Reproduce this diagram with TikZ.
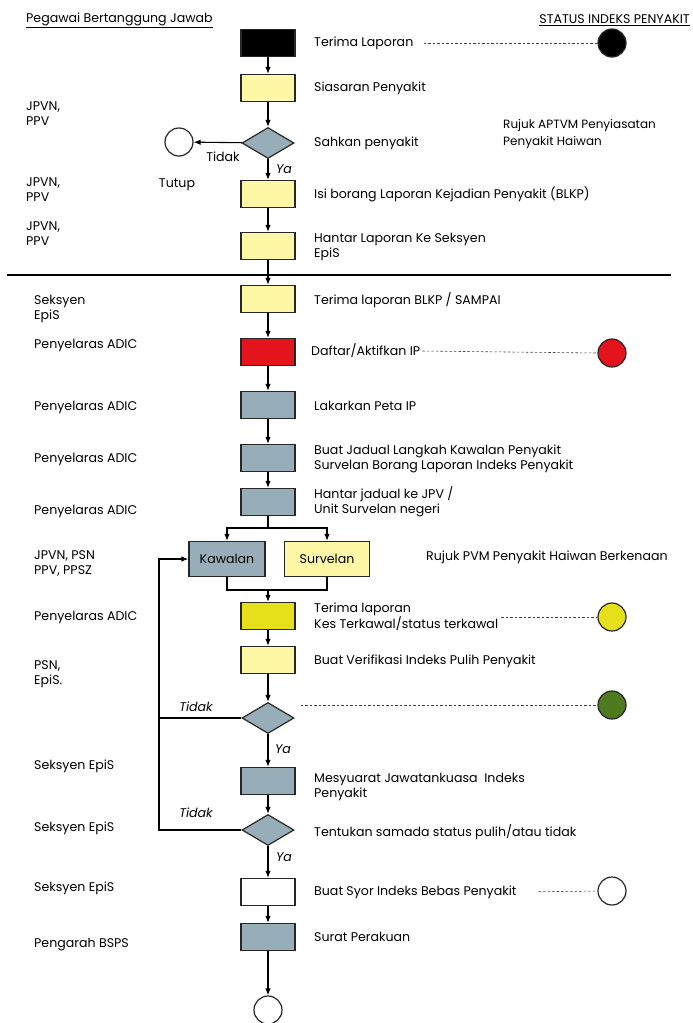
\documentclass[tikz,border=0pt]{standalone}
\usepackage{fontspec}
\setmainfont{Poppins}
\usetikzlibrary{arrows,arrows.meta,shapes,positioning,calc}

\definecolor{lyellow}{HTML}{FDF7A6}
\definecolor{dyellow}{HTML}{E6E01A}
\definecolor{greyblue}{HTML}{97AEB8}
\definecolor{flagred}{HTML}{E3141B}
\definecolor{flaggreen}{HTML}{4E7A1E}

\begin{document}
\begin{tikzpicture}[x=1pt, y=-1pt,
  stepbox/.style={draw=black!85, line width=1.2pt, minimum width=54pt, minimum height=27pt, inner sep=0pt},
  decision/.style={diamond, draw=black!85, line width=1.2pt, fill=greyblue, minimum width=52pt, minimum height=31pt, inner sep=0pt},
  status/.style={circle, draw=black!85, line width=1.2pt, minimum size=28pt, inner sep=0pt},
  txt/.style={anchor=west, inner sep=0pt, align=left, font=\fontsize{12.6}{15}\selectfont},
  note/.style={inner sep=0pt, font=\fontsize{12.6}{15}\selectfont\itshape},
  flow/.style={-{Latex[length=7pt, width=5.5pt]}, line width=1.1pt},
  dots/.style={dash pattern=on 2.5pt off 2pt, black!75, line width=0.6pt}]
  \useasboundingbox (0,0) rectangle (693,1023);

  % headings
  \node[txt] (head1) at (26,20) {\underline{Pegawai Bertanggung Jawab}};
  \node[txt, anchor=east] (head2) at (690,20) {\underline{STATUS INDEKS PENYAKIT}};

  % main column
  \node[stepbox, fill=black] (lap) at (268,43) {};
  \node[stepbox, fill=lyellow] (sias) at (268,88) {};
  \node[decision] (sah) at (268,143) {};
  \node[stepbox, fill=lyellow] (isi) at (268,194) {};
  \node[stepbox, fill=lyellow] (hantar) at (268,246) {};
  \node[stepbox, fill=lyellow] (blkp) at (268,299) {};
  \node[stepbox, fill=flagred] (daftar) at (268,352) {};
  \node[stepbox, fill=greyblue] (peta) at (268,405) {};
  \node[stepbox, fill=greyblue] (jadual) at (268,458) {};
  \node[stepbox, fill=greyblue] (hjadual) at (268,502) {};
  \node[stepbox, fill=greyblue, minimum width=76pt, minimum height=35pt, font=\fontsize{12.6}{15}\selectfont] (kaw) at (227,559) {Kawalan};
  \node[stepbox, fill=lyellow, minimum width=85pt, minimum height=35pt, font=\fontsize{12.6}{15}\selectfont] (sur) at (327,559) {Survelan};
  \node[stepbox, fill=dyellow] (kes) at (268,616) {};
  \node[stepbox, fill=lyellow] (veri) at (268,660) {};
  \node[decision] (pulih) at (268,718) {};
  \node[stepbox, fill=greyblue] (mesy) at (268,781) {};
  \node[decision] (tentu) at (268,830) {};
  \node[stepbox, fill=white] (syor) at (268,892) {};
  \node[stepbox, fill=greyblue] (surat) at (268,937) {};
  \node[status] (tamat) at (268,1010) {};
  \node[status] (tutup) at (179,142) {};

  % step texts
  \node[txt] (tlap) at (314,43) {Terima Laporan};
  \node[txt] (tsias) at (314,88) {Siasaran Penyakit};
  \node[txt] (tsah) at (314,143) {Sahkan penyakit};
  \node[txt] (tisi) at (314,194) {Isi borang Laporan Kejadian Penyakit (BLKP)};
  \node[txt] (thantar) at (314,247) {Hantar Laporan Ke Seksyen\\EpiS};
  \node[txt] (tblkp) at (314,300) {Terima laporan BLKP / SAMPAI};
  \node[txt] (tdaftar) at (311,351) {Daftar/Aktifkan IP};
  \node[txt] (tpeta) at (314,406) {Lakarkan Peta IP};
  \node[txt] (tjadual) at (314,459) {Buat Jadual Langkah Kawalan Penyakit\\Survelan Borang Laporan Indeks Penyakit};
  \node[txt] (thjadual) at (314,502) {Hantar jadual ke JPV /\\Unit Survelan negeri};
  \node[txt] (tkes) at (314,617) {Terima laporan\\Kes Terkawal/status terkawal};
  \node[txt] (tveri) at (314,661) {Buat Verifikasi Indeks Pulih Penyakit};
  \node[txt] (tmesy) at (314,787) {Mesyuarat Jawatankuasa \ Indeks\\Penyakit};
  \node[txt] (ttentu) at (314,832) {Tentukan samada status pulih/atau tidak};
  \node[txt] (tsyor) at (314,892) {Buat Syor Indeks Bebas Penyakit};
  \node[txt] (tsurat) at (314,937) {Surat Perakuan};
  \node[txt, font=\fontsize{12}{17}\selectfont] (rujuk1) at (503,134) {Rujuk APTVM Penyiasatan\\Penyakit Haiwan};
  \node[txt] (rujuk2) at (426,557) {Rujuk PVM Penyakit Haiwan Berkenaan};

  % responsible officers
  \node[txt] (o1) at (26,114) {JPVN,\\PPV};
  \node[txt] (o2) at (26,190) {JPVN,\\PPV};
  \node[txt] (o3) at (26,234) {JPVN,\\PPV};
  \node[txt] (o4) at (34,309) {Seksyen\\EpiS};
  \node[txt] (o5) at (34,345) {Penyelaras ADIC};
  \node[txt] (o6) at (34,407) {Penyelaras ADIC};
  \node[txt] (o7) at (34,459) {Penyelaras ADIC};
  \node[txt] (o8) at (34,511) {Penyelaras ADIC};
  \node[txt] (o9) at (34,563) {JPVN, PSN\\PPV, PPSZ};
  \node[txt] (o10) at (34,617) {Penyelaras ADIC};
  \node[txt] (o11) at (34,674) {PSN,\\EpiS.};
  \node[txt] (o12) at (34,766) {Seksyen EpiS};
  \node[txt] (o13) at (34,828) {Seksyen EpiS};
  \node[txt] (o14) at (34,888) {Seksyen EpiS};
  \node[txt] (o15) at (34,945) {Pengarah BSPS};

  % decision labels
  \node[inner sep=0pt, font=\fontsize{12.6}{15}\selectfont] (no1) at (223,157) {Tidak};
  \node[note] (ya1) at (284,169) {Ya};
  \node[inner sep=0pt, font=\fontsize{12.6}{15}\selectfont] (tutuptxt) at (177,185) {Tutup};
  \node[note] (no2) at (196,707) {Tidak};
  \node[note] (ya2) at (283,749) {Ya};
  \node[note] (no3) at (196,813) {Tidak};
  \node[note] (ya3) at (284,857) {Ya};

  % status circles
  \node[status, fill=black] (s1) at (612,43) {};
  \node[status, fill=flagred] (s2) at (612,353) {};
  \node[status, fill=dyellow] (s3) at (612,617) {};
  \node[status, fill=flaggreen] (s4) at (612,705) {};
  \node[status, fill=white] (s5) at (612,891) {};

  \draw[dots, shorten <=10pt] (tlap.east) -- (s1.west);
  \draw[dots, shorten <=2pt] (tdaftar.east) -- (s2.west);
  \draw[dots, shorten <=3pt] (tkes.east |- s3) -- (s3.west);
  \draw[dots, shorten <=6pt] (pulih.east |- s4) -- (s4.west);
  \draw[dots, shorten <=22pt] (tsyor.east) -- (s5.west);

  % separator
  \draw[line width=1.8pt] (7,275) -- (671,275);

  % flow
  \draw[flow] (lap) -- (sias);
  \draw[flow] (sias) -- (sah);
  \draw[flow] (sah) -- (isi);
  \draw[flow] (sah) -- (tutup);
  \draw[flow] (isi) -- (hantar);
  \draw[flow] (hantar) -- (blkp);
  \draw[flow] (blkp) -- (daftar);
  \draw[flow] (daftar) -- (peta);
  \draw[flow] (peta) -- (jadual);
  \draw[flow] (jadual) -- (hjadual);
  \coordinate (split) at (268,528);
  \coordinate (merge) at (268,590);
  \coordinate (loop) at (159,559);
  \draw[line width=1.1pt] (hjadual) -- (split);
  \draw[flow] (split) -| (kaw);
  \draw[flow] (split) -| (sur);
  \draw[line width=1.1pt] (kaw) |- (merge);
  \draw[line width=1.1pt] (sur) |- (merge);
  \draw[flow] (merge) -- (kes);
  \draw[flow] (kes) -- (veri);
  \draw[flow] (veri) -- (pulih);
  \draw[flow] (pulih) -- (mesy);
  \draw[flow] (mesy) -- (tentu);
  \draw[flow] (tentu) -- (syor);
  \draw[flow] (syor) -- (surat);
  \draw[flow] (surat) -- (tamat);
  \draw[line width=1.1pt] (pulih.west) -- (pulih.west -| loop);
  \draw[flow] (tentu.west) -| (loop) -- (kaw.west);
\end{tikzpicture}
\end{document}
